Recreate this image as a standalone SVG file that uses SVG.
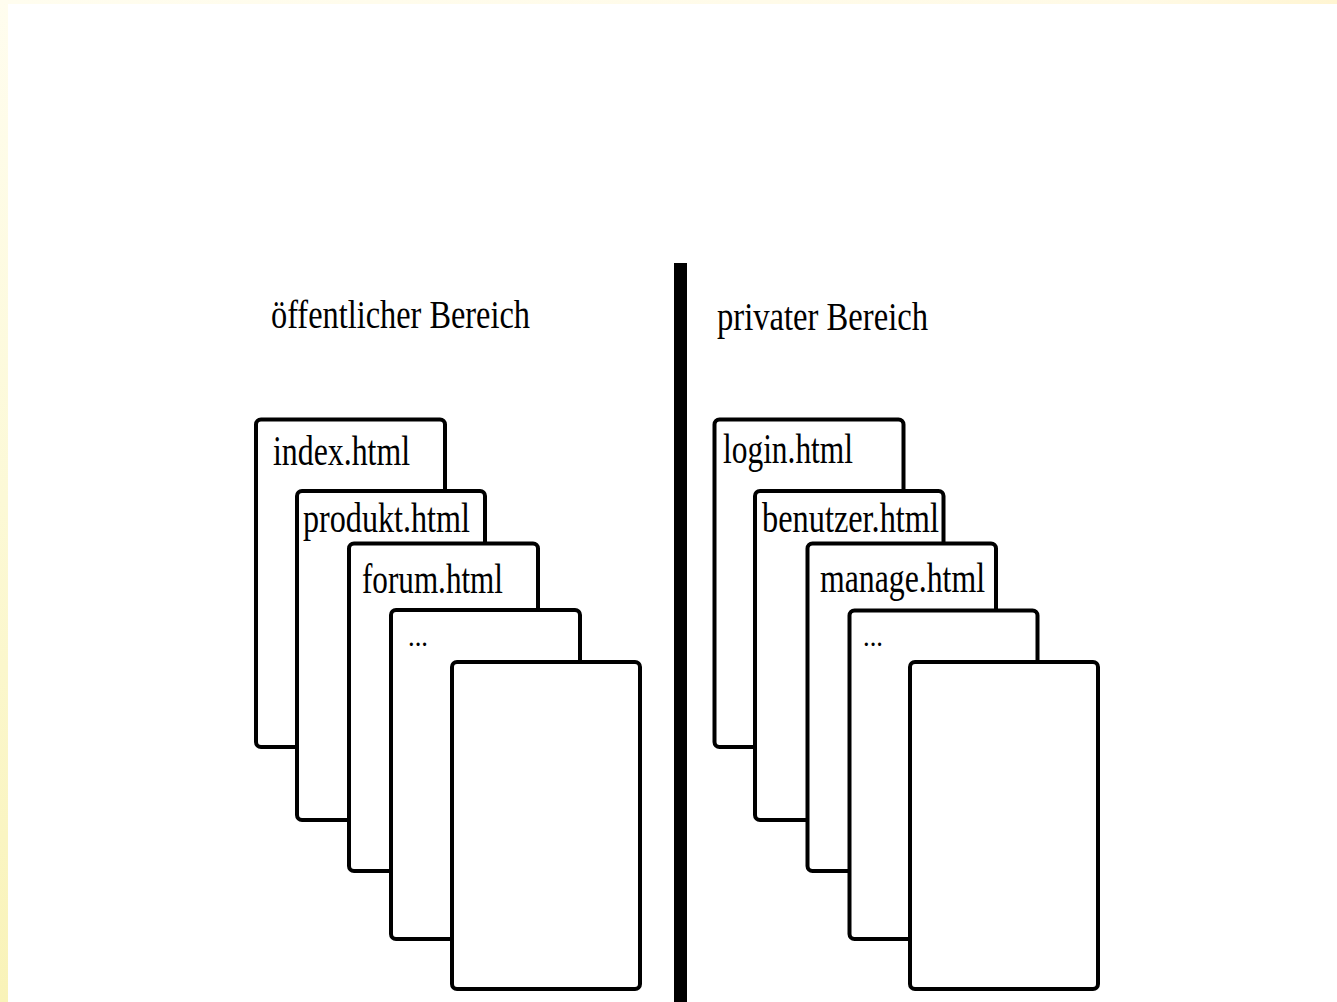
<svg xmlns="http://www.w3.org/2000/svg" width="1337" height="1002" viewBox="0 0 1337 1002">
  <defs>
    <linearGradient id="gL" x1="0" y1="0" x2="0" y2="1">
      <stop offset="0" stop-color="#FFFDEF"/>
      <stop offset="0.5" stop-color="#FCF9D6"/>
      <stop offset="1" stop-color="#F9F3B8"/>
    </linearGradient>
    <linearGradient id="gT" x1="0" y1="0" x2="1" y2="0">
      <stop offset="0" stop-color="#FFFDEF"/>
      <stop offset="0.85" stop-color="#FFFAE6"/>
      <stop offset="1" stop-color="#FFF5D2"/>
    </linearGradient>
  </defs>
  <style>
    .page { fill: #FFFFFF; stroke: #000000; stroke-width: 4; }
    .t { font-family: "Liberation Serif", "Times New Roman", serif; fill: #000000; }
    .title { font-size: 40px; }
    .fn { font-size: 42px; }
    .dots { font-size: 30px; }
  </style>
  <rect x="0" y="0" width="1337" height="1002" fill="#FFFFFF"/>
  <rect x="0" y="0" width="1337" height="4" fill="url(#gT)"/>
  <rect x="0" y="0" width="8" height="1002" fill="url(#gL)"/>

  <g id="divider">
    <rect x="674" y="263" width="13" height="739" fill="#000000"/>
  </g>

  <g id="title-public">
    <text class="t title" x="271" y="328" textLength="259" lengthAdjust="spacingAndGlyphs">öffentlicher Bereich</text>
  </g>
  <g id="title-private">
    <text class="t title" x="717" y="330" textLength="211" lengthAdjust="spacingAndGlyphs">privater Bereich</text>
  </g>

  <g id="public-stack">
    <g id="index-html">
      <rect class="page" x="256" y="419.5" width="189" height="327.5" rx="5"/>
      <text class="t fn" x="273" y="465" textLength="137" lengthAdjust="spacingAndGlyphs">index.html</text>
    </g>
    <g id="produkt-html">
      <rect class="page" x="297" y="491" width="188" height="329" rx="5"/>
      <text class="t fn" x="303" y="532" textLength="167" lengthAdjust="spacingAndGlyphs">produkt.html</text>
    </g>
    <g id="forum-html">
      <rect class="page" x="349" y="543.5" width="189" height="327.5" rx="5"/>
      <text class="t fn" x="362" y="593" textLength="141" lengthAdjust="spacingAndGlyphs">forum.html</text>
    </g>
    <g id="more-public">
      <rect class="page" x="391" y="610" width="189" height="329" rx="5"/>
      <text class="t dots" x="408" y="646" textLength="20" lengthAdjust="spacingAndGlyphs">...</text>
    </g>
    <g id="blank-public">
      <rect class="page" x="452" y="662" width="188" height="327" rx="5"/>
    </g>
  </g>

  <g id="private-stack">
    <g id="login-html">
      <rect class="page" x="714.5" y="419.5" width="189" height="327.5" rx="5"/>
      <text class="t fn" x="723" y="463" textLength="130" lengthAdjust="spacingAndGlyphs">login.html</text>
    </g>
    <g id="benutzer-html">
      <rect class="page" x="755" y="491" width="188.5" height="329" rx="5"/>
      <text class="t fn" x="762" y="532" textLength="177" lengthAdjust="spacingAndGlyphs">benutzer.html</text>
    </g>
    <g id="manage-html">
      <rect class="page" x="807.5" y="543.5" width="188.5" height="327.5" rx="5"/>
      <text class="t fn" x="820" y="592" textLength="165" lengthAdjust="spacingAndGlyphs">manage.html</text>
    </g>
    <g id="more-private">
      <rect class="page" x="849.5" y="610.5" width="188" height="328.5" rx="5"/>
      <text class="t dots" x="863" y="646" textLength="20" lengthAdjust="spacingAndGlyphs">...</text>
    </g>
    <g id="blank-private">
      <rect class="page" x="910" y="662" width="188" height="327" rx="5"/>
    </g>
  </g>
</svg>
